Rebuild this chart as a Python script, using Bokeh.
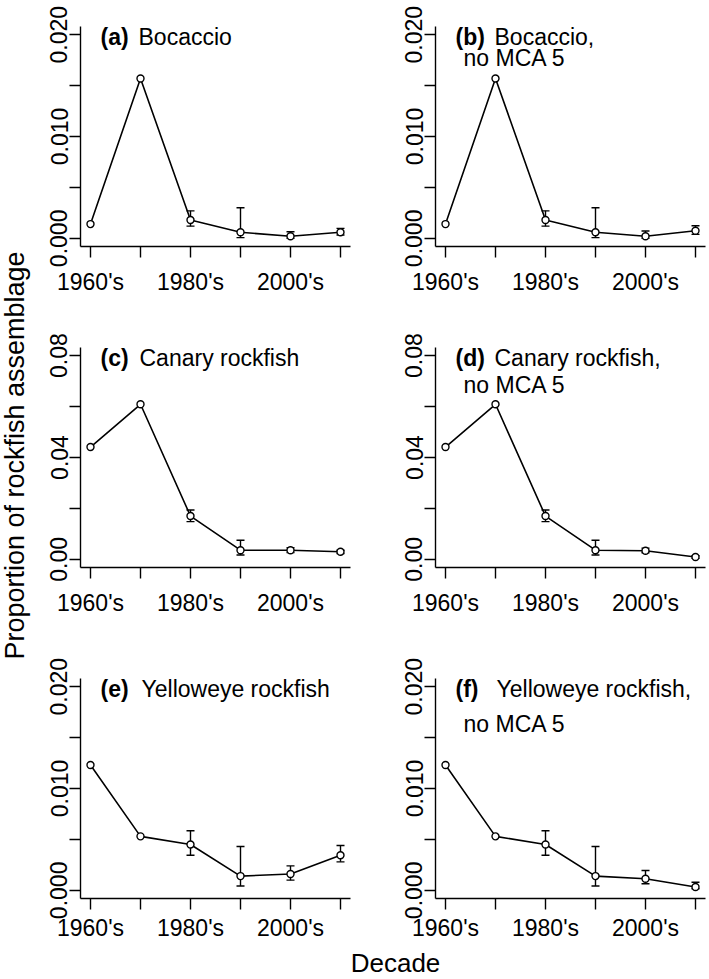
import math
from bokeh.plotting import figure
from bokeh.models import Range1d, FixedTicker, Whisker, TeeHead, ColumnDataSource, Label
from bokeh.layouts import row, column
from bokeh.embed import file_html
from bokeh.resources import INLINE

# ---------------- data ----------------
decades = [1960, 1970, 1980, 1990, 2000, 2010]
decade_labels = ["1960's", "", "1980's", "", "2000's", ""]

ticks_small = [0.0, 0.005, 0.01, 0.015, 0.02]
labels_small = ["0.000", "", "0.010", "", "0.020"]
ticks_large = [0.0, 0.02, 0.04, 0.06, 0.08]
labels_large = ["0.00", "", "0.04", "", "0.08"]

# (a) Bocaccio
boc = [0.0014, 0.0157, 0.0018, 0.0006, 0.0002, 0.0006]
boc_lo = [None, None, 0.0012, 0.00007, 0.0, 0.00033]
boc_hi = [None, None, 0.0027, 0.0030, 0.00065, 0.00098]
# (b) Bocaccio, no MCA 5
boc_n = [0.0014, 0.0157, 0.0018, 0.0006, 0.0002, 0.00075]
boc_n_lo = [None, None, 0.0012, 0.00007, 0.0, 0.00039]
boc_n_hi = [None, None, 0.0027, 0.0030, 0.00072, 0.00124]
# (c) Canary rockfish
can = [0.0441, 0.0609, 0.0170, 0.0036, 0.0036, 0.0030]
can_lo = [None, None, 0.0148, 0.0017, 0.0027, 0.0023]
can_hi = [None, None, 0.0194, 0.0075, 0.0046, 0.0036]
# (d) Canary rockfish, no MCA 5
can_n = [0.0441, 0.0609, 0.0170, 0.0036, 0.0034, 0.0009]
can_n_lo = [None, None, 0.0148, 0.0017, 0.0026, 0.0004]
can_n_hi = [None, None, 0.0194, 0.0075, 0.0044, 0.0014]
# (e) Yelloweye rockfish
yel = [0.0123, 0.0053, 0.0045, 0.0014, 0.0016, 0.00345]
yel_lo = [None, None, 0.00345, 0.00042, 0.0010, 0.0028]
yel_hi = [None, None, 0.00585, 0.0043, 0.0024, 0.0044]
# (f) Yelloweye rockfish, no MCA 5
yel_n = [0.0123, 0.0053, 0.0045, 0.0014, 0.00114, 0.00033]
yel_n_lo = [None, None, 0.00345, 0.00042, 0.00065, 0.00016]
yel_n_hi = [None, None, 0.00585, 0.0043, 0.00195, 0.0008]

FONT = "Liberation Sans"
TICK_FS = "23px"
FRAME_H = 220
FRAME_W = 270


def panel(vals, lo, hi, yticks, ylabels, ymax, tag, line1, line2,
          left, right, top, bottom, dy1, dy2, x1, xstandoff):
    p = figure(frame_width=FRAME_W, frame_height=FRAME_H,
               x_range=Range1d(1958, 2012),
               y_range=Range1d(-0.04 * ymax, 1.04 * ymax),
               output_backend="svg", toolbar_location=None,
               min_border_left=left, min_border_right=right,
               min_border_top=top, min_border_bottom=bottom)
    p.outline_line_color = None
    p.xgrid.visible = False
    p.ygrid.visible = False
    p.background_fill_color = "white"
    p.border_fill_color = "white"

    for ax in (p.xaxis[0], p.yaxis[0]):
        ax.axis_line_width = 1.4
        ax.axis_line_color = "black"
        ax.major_tick_line_width = 1.4
        ax.major_tick_line_color = "black"
        ax.major_tick_in = 0
        ax.major_tick_out = 11
        ax.minor_tick_line_color = None
        ax.major_label_text_font = FONT
        ax.major_label_text_font_size = TICK_FS
        ax.major_label_text_color = "black"

    p.xaxis.ticker = FixedTicker(ticks=decades)
    p.xaxis.major_label_overrides = dict(zip(decades, decade_labels))
    p.xaxis.major_label_standoff = xstandoff

    p.yaxis.ticker = FixedTicker(ticks=yticks)
    p.yaxis.major_label_overrides = dict(zip(yticks, ylabels))
    p.yaxis.major_label_orientation = "vertical"
    p.yaxis.major_label_standoff = 2

    bx = [d for d, l in zip(decades, lo) if l is not None]
    bl = [l for l in lo if l is not None]
    bh = [h for h in hi if h is not None]
    src = ColumnDataSource(dict(x=bx, lo=bl, hi=bh))
    w = Whisker(base="x", lower="lo", upper="hi", source=src,
                line_width=1.4, line_color="black",
                upper_head=TeeHead(size=8, line_width=1.4, line_color="black"),
                lower_head=TeeHead(size=8, line_width=1.4, line_color="black"))
    p.add_layout(w)

    p.line(decades, vals, line_width=1.6, line_color="black")
    p.scatter(decades, vals, marker="circle", size=7, fill_color="white",
              line_color="black", line_width=1.4)

    # dy1 / dy2: distance from frame top to each title line
    p.add_layout(Label(x=20, y=FRAME_H - dy1, x_units="screen", y_units="screen",
                       text=tag, text_font=FONT, text_font_size=TICK_FS,
                       text_font_style="bold", text_baseline="middle",
                       text_color="black"))
    p.add_layout(Label(x=x1, y=FRAME_H - dy1, x_units="screen", y_units="screen",
                       text=line1, text_font=FONT, text_font_size=TICK_FS,
                       text_baseline="middle", text_color="black"))
    if line2:
        p.add_layout(Label(x=28, y=FRAME_H - dy2, x_units="screen", y_units="screen",
                           text=line2, text_font=FONT, text_font_size=TICK_FS,
                           text_baseline="middle", text_color="black"))
    return p


# left column: border 44 | frame 270 | 35 ; right column: 50 | frame 270 | 3
pa = panel(boc, boc_lo, boc_hi, ticks_small, labels_small, 0.02, "(a)", "Bocaccio", None,
           44, 35, 26, 50, 10, None, 58, 11)
pb = panel(boc_n, boc_n_lo, boc_n_hi, ticks_small, labels_small, 0.02, "(b)", "Bocaccio,", "no MCA 5",
           50, 3, 26, 50, 10, 31, 59, 11)
pc = panel(can, can_lo, can_hi, ticks_large, labels_large, 0.08, "(c)", "Canary rockfish", None,
           44, 35, 50, 50, 10, None, 59, 11)
pd = panel(can_n, can_n_lo, can_n_hi, ticks_large, labels_large, 0.08, "(d)", "Canary rockfish,", "no MCA 5",
           50, 3, 50, 50, 10, 37.5, 59, 11)
pe = panel(yel, yel_lo, yel_hi, ticks_small, labels_small, 0.02, "(e)", "Yelloweye rockfish", None,
           44, 35, 60, 50, 10, None, 61, 5)
pf = panel(yel_n, yel_n_lo, yel_n_hi, ticks_small, labels_small, 0.02, "(f)", "Yelloweye rockfish,", "no MCA 5",
           50, 3, 60, 50, 10, 45.5, 61, 5)

TOTAL_H = 979
YLAB_W = 36
GRID_W = (44 + FRAME_W + 35) + (50 + FRAME_W + 3)

ylab = figure(width=YLAB_W, height=TOTAL_H, x_range=Range1d(0, YLAB_W), y_range=Range1d(0, TOTAL_H),
              output_backend="svg", toolbar_location=None, min_border=0,
              x_axis_location=None, y_axis_location=None)
ylab.outline_line_color = None
ylab.xgrid.visible = False
ylab.ygrid.visible = False
ylab.add_layout(Label(x=14, y=TOTAL_H - 455, text="Proportion of rockfish assemblage",
                      angle=math.pi / 2, text_align="center", text_baseline="middle",
                      text_font=FONT, text_font_size="27px", text_color="black"))

XLAB_H = TOTAL_H - (26 + 220 + 50) - (50 + 220 + 50) - (60 + 220 + 50)
xlab = figure(width=GRID_W, height=XLAB_H, x_range=Range1d(0, GRID_W), y_range=Range1d(0, XLAB_H),
              output_backend="svg", toolbar_location=None, min_border=0,
              x_axis_location=None, y_axis_location=None)
xlab.outline_line_color = None
xlab.xgrid.visible = False
xlab.ygrid.visible = False
xlab.add_layout(Label(x=395 - YLAB_W, y=TOTAL_H - 960, text="Decade", text_align="center",
                      text_baseline="middle",
                      text_font=FONT, text_font_size="26px", text_color="black"))

layout = row(ylab, column(row(pa, pb), row(pc, pd), row(pe, pf), xlab))

open("out.html", "w").write(file_html(layout, INLINE))
